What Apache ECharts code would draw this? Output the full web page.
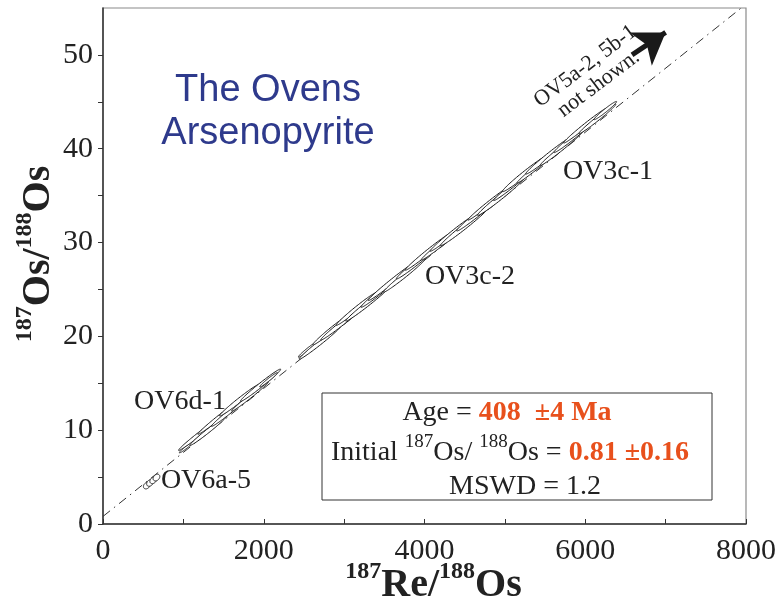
<!DOCTYPE html>
<html>
<head>
<meta charset="utf-8">
<script src="https://cdn.jsdelivr.net/npm/echarts@6/dist/echarts.min.js"></script>
<style>
  html, body { margin: 0; padding: 0; background: #fff; }
  #chart { width: 783px; height: 601px; }
</style>
</head>
<body>
<div id="chart"></div>
<script>
// isochron fit line (dash-dot)
const isoX = [0, 8000];
const isoY = [0.81, 55.41];

// error ellipses: centre, 2-sigma half widths, error correlation
const ellX = [545, 585, 625, 665,
  1050, 1180, 1310, 1440, 1570, 1700, 1830, 1960, 2060,
  2550, 2700, 2850, 3000, 3150, 3300, 3450, 3600, 3750, 3900, 4050, 4200, 4350,
  4500, 4650, 4800, 4950, 5100, 5250, 5400, 5550, 5700, 5850, 6000, 6150, 6250];
const ellY = [4.10, 4.38, 4.66, 4.95,
  8.28, 9.46, 9.95, 11.34, 11.93, 13.21, 13.60, 14.79, 15.37,
  18.61, 19.34, 20.76, 21.59, 22.91, 23.53, 24.76, 25.88, 26.50, 27.83, 29.05, 29.78, 31.00,
  31.72, 32.95, 34.17, 34.89, 36.12, 37.34, 38.07, 39.29, 40.01, 41.24, 42.46, 43.18, 44.07];
const ellSX = [42, 42, 42, 42,
  100, 240, 230, 260, 220, 250, 230, 250, 110,
  120, 260, 240, 290, 250, 280, 240, 300, 260, 250, 290, 240, 280,
  300, 250, 260, 290, 240, 280, 250, 290, 260, 240, 270, 230, 140];
const ellSY = [0.36, 0.36, 0.36, 0.36,
  0.70, 1.62, 1.58, 1.78, 1.52, 1.70, 1.58, 1.72, 0.76,
  0.83, 1.78, 1.67, 1.98, 1.74, 1.91, 1.66, 2.06, 1.79, 1.71, 2.00, 1.64, 1.93,
  2.05, 1.72, 1.78, 2.00, 1.65, 1.92, 1.73, 1.99, 1.79, 1.65, 1.86, 1.58, 0.97];
const ellRho = [0.3, 0.3, 0.3, 0.3,
  0.975, 0.988, 0.986, 0.989, 0.987, 0.985, 0.989, 0.986, 0.975,
  0.975, 0.988, 0.985, 0.989, 0.986, 0.988, 0.984, 0.989, 0.987, 0.985, 0.989, 0.986, 0.988,
  0.987, 0.985, 0.989, 0.986, 0.988, 0.984, 0.989, 0.986, 0.988, 0.985, 0.989, 0.986, 0.975];

// arrow toward off-scale points
const arrowX = [6582, 7000];
const arrowY = [50.0, 52.4];

const xTicks = [0, 1000, 2000, 3000, 4000, 5000, 6000, 7000, 8000];
const xLabels = [0, 2000, 4000, 6000, 8000];
const yTicks = [0, 5, 10, 15, 20, 25, 30, 35, 40, 45, 50];
const yLabels = [0, 10, 20, 30, 40, 50];

const serif = '"Liberation Serif", "Times New Roman", serif';
const orange = '#e8501c';

const ellipseData = ellX.map((x, i) => [x, ellY[i], ellSX[i], ellSY[i], ellRho[i]]);

const chart = echarts.init(document.getElementById('chart'));

const nameRich = {
  sup: { fontFamily: serif, fontWeight: 'bold', fontSize: 24, color: '#222', verticalAlign: 'top', lineHeight: 24 },
  big: { fontFamily: serif, fontWeight: 'bold', fontSize: 40, color: '#222', verticalAlign: 'bottom', lineHeight: 46 }
};

const option = {
  animation: false,
  grid: {
    left: 103, right: 37, top: 8, bottom: 77,
    outerBoundsMode: 'none',
    containLabel: false,
    show: true, borderColor: '#8a8a8a', borderWidth: 1.2
  },
  xAxis: {
    type: 'value', min: 0, max: 8000, interval: 2000,
    axisLine: { lineStyle: { color: '#333', width: 1.5 } },
    axisTick: { inside: true, length: 5, customValues: xTicks, lineStyle: { color: '#333' } },
    axisLabel: { customValues: xLabels, formatter: v => String(v), margin: 12, fontFamily: serif, fontSize: 30, color: '#222' },
    splitLine: { show: false },
    name: '{sup|187}{big|Re/}{sup|188}{big|Os}',
    nameLocation: 'middle',
    nameMoveOverlap: false,
    nameGap: 36,
    nameTextStyle: { padding: [0, 0, 0, 18], rich: nameRich }
  },
  yAxis: {
    type: 'value', min: 0, max: 55, interval: 10,
    axisLine: { lineStyle: { color: '#333', width: 1.5 } },
    axisTick: { inside: false, length: 5, customValues: yTicks, lineStyle: { color: '#333' } },
    axisLabel: { customValues: yLabels, formatter: v => String(v), margin: 10, fontFamily: serif, fontSize: 30, color: '#222' },
    splitLine: { show: false },
    name: '{sup|187}{big|Os/}{sup|188}{big|Os}',
    nameLocation: 'middle',
    nameMoveOverlap: false,
    nameRotate: 90,
    nameGap: 44,
    nameTextStyle: { padding: [0, 0, 0, 24], rich: nameRich }
  },
  series: [
    {
      type: 'line',
      data: isoX.map((x, i) => [x, isoY[i]]),
      showSymbol: false,
      clip: true,
      lineStyle: { color: '#333', width: 1, type: [9, 5, 1.5, 5] },
      z: 1
    },
    {
      type: 'custom',
      data: ellipseData,
      clip: true,
      z: 2,
      renderItem: function (params, api) {
        const cx = api.value(0), cy = api.value(1);
        const sx = api.value(2), sy = api.value(3), r = api.value(4);
        const q = Math.sqrt(1 - r * r);
        const pts = [];
        for (let k = 0; k < 90; k++) {
          const t = k / 90 * Math.PI * 2;
          pts.push(api.coord([cx + sx * Math.cos(t), cy + sy * (r * Math.cos(t) + q * Math.sin(t))]));
        }
        return {
          type: 'polygon',
          shape: { points: pts },
          style: { fill: '#fff', stroke: '#1a1a1a', lineWidth: 1 }
        };
      }
    },
    {
      type: 'line',
      data: [],
      markLine: {
        silent: true,
        symbol: ['none', 'arrow'],
        symbolSize: 30,
        label: { show: false },
        lineStyle: { color: '#1a1a1a', width: 5, type: 'solid' },
        data: [[{ coord: [arrowX[0], arrowY[0]] }, { coord: [arrowX[1], arrowY[1]] }]]
      }
    }
  ],
  graphic: [
    {
      type: 'text', x: 268, y: 112, z: 10,
      style: {
        text: 'The Ovens\nArsenopyrite',
        font: '38px "Liberation Sans", Arial, sans-serif',
        lineHeight: 43,
        fill: '#2e3a8c', align: 'center', verticalAlign: 'middle',
        textAlign: 'center', textVerticalAlign: 'middle'
      }
    },
    {
      type: 'text', x: 592, y: 75, rotation: 37 * Math.PI / 180, z: 10,
      style: {
        text: 'OV5a-2, 5b-1\nnot shown.',
        font: '22px ' + serif, lineHeight: 22,
        fill: '#222', align: 'center', verticalAlign: 'middle',
        textAlign: 'center', textVerticalAlign: 'middle'
      }
    },
    { type: 'text', x: 608, y: 172, z: 10, style: { text: 'OV3c-1', font: '28px ' + serif, fill: '#222', align: 'center', verticalAlign: 'middle', textAlign: 'center', textVerticalAlign: 'middle' } },
    { type: 'text', x: 470, y: 277, z: 10, style: { text: 'OV3c-2', font: '28px ' + serif, fill: '#222', align: 'center', verticalAlign: 'middle', textAlign: 'center', textVerticalAlign: 'middle' } },
    { type: 'text', x: 180, y: 402, z: 10, style: { text: 'OV6d-1', font: '28px ' + serif, fill: '#222', align: 'center', verticalAlign: 'middle', textAlign: 'center', textVerticalAlign: 'middle' } },
    { type: 'text', x: 206, y: 481, z: 10, style: { text: 'OV6a-5', font: '28px ' + serif, fill: '#222', align: 'center', verticalAlign: 'middle', textAlign: 'center', textVerticalAlign: 'middle' } },
    {
      type: 'rect', z: 9,
      shape: { x: 322, y: 393, width: 390, height: 107 },
      style: { fill: '#fff', stroke: '#333', lineWidth: 1 }
    },
    {
      type: 'text', x: 507, y: 413, z: 10,
      style: {
        text: '{n|Age = }{o|408  ±4 Ma}',
        align: 'center', verticalAlign: 'middle', textAlign: 'center', textVerticalAlign: 'middle',
        rich: {
          n: { fontFamily: serif, fontSize: 28, fill: '#222', color: '#222' },
          o: { fontFamily: serif, fontSize: 28, fontWeight: 'bold', fill: orange, color: orange }
        }
      }
    },
    {
      type: 'text', x: 510, y: 450, z: 10,
      style: {
        text: '{n|Initial }{s|187}{n|Os/ }{s|188}{n|Os = }{o|0.81 ±0.16}',
        align: 'center', verticalAlign: 'middle', textAlign: 'center', textVerticalAlign: 'middle',
        rich: {
          n: { fontFamily: serif, fontSize: 28, fill: '#222', color: '#222', verticalAlign: 'bottom', lineHeight: 34 },
          s: { fontFamily: serif, fontSize: 19, fill: '#222', color: '#222', verticalAlign: 'top', lineHeight: 19 },
          o: { fontFamily: serif, fontSize: 28, fontWeight: 'bold', fill: orange, color: orange, verticalAlign: 'bottom', lineHeight: 34 }
        }
      }
    },
    {
      type: 'text', x: 525, y: 487, z: 10,
      style: {
        text: 'MSWD = 1.2',
        font: '28px ' + serif, fill: '#222',
        align: 'center', verticalAlign: 'middle', textAlign: 'center', textVerticalAlign: 'middle'
      }
    }
  ]
};

chart.setOption(option);
</script>
</body>
</html>
